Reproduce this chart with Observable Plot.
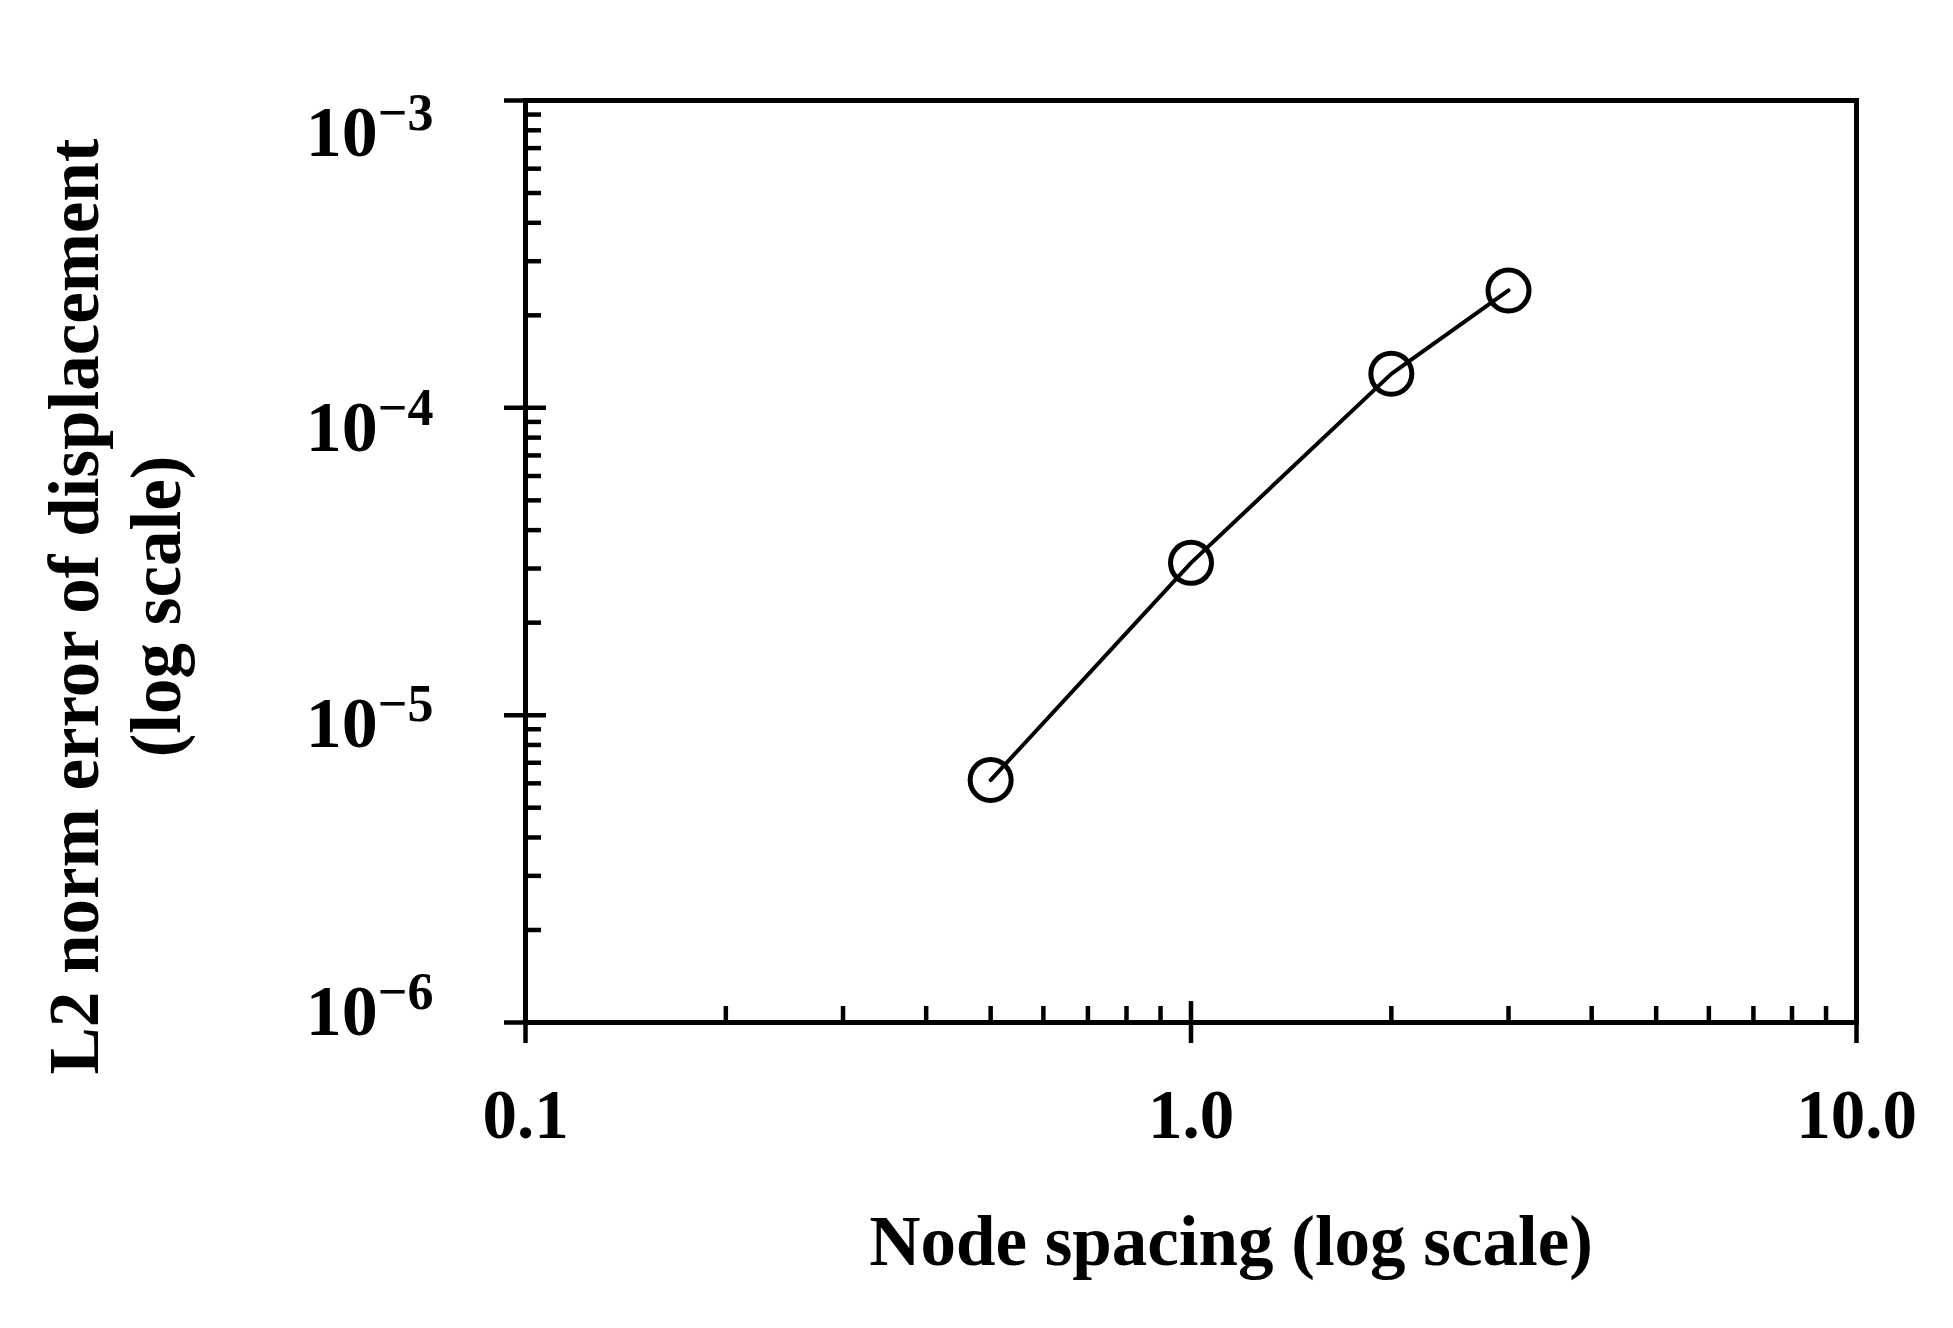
<!DOCTYPE html>
<html><head><meta charset="utf-8">
<script src="https://cdn.jsdelivr.net/npm/d3@7"></script>
<script src="https://cdn.jsdelivr.net/npm/@observablehq/plot@0.6"></script>
<style>
html,body{margin:0;padding:0;background:#fff;}
</style>
</head><body><div id="chart"></div>
<script>
// ---- data ----
const nodeSpacing = [0.5, 1.0, 2.0, 3.0];
const l2Error = [6.15e-6, 3.13e-5, 1.29e-4, 2.41e-4];

// ---- ticks ----
const xMajorTicks = [0.1, 1, 10];
const xTickLabels = ["0.1", "1.0", "10.0"];
const xMinorTicks = [0.2, 0.3, 0.4, 0.5, 0.6, 0.7, 0.8, 0.9, 2, 3, 4, 5, 6, 7, 8, 9];
const yMajorTicks = [1e-6, 1e-5, 1e-4, 1e-3];
const yTickExponents = ["−6", "−5", "−4", "−3"];
const yMinorTicks = [2e-6, 3e-6, 4e-6, 5e-6, 6e-6, 7e-6, 8e-6, 9e-6,
                     2e-5, 3e-5, 4e-5, 5e-5, 6e-5, 7e-5, 8e-5, 9e-5,
                     2e-4, 3e-4, 4e-4, 5e-4, 6e-4, 7e-4, 8e-4, 9e-4];

// ---- titles ----
const xTitle = "Node spacing (log scale)";
const yTitle = "L2 norm error of displacement\n(log scale)";

const data = nodeSpacing.map((x, i) => ({x, y: l2Error[i]}));

// vertical nudges of the y tick labels (as in the original figure), one per major tick
const yLabelNudge = [-11, 9, 20, 32];

const yLabelAxes = yMajorTicks.map((t, i) =>
  Plot.axisY([t], {tickSize: 0, tickPadding: 92, dy: yLabelNudge[i], stroke: "none",
    fontSize: 72, label: null,
    tickFormat: d => "10^" + yTickExponents[yMajorTicks.indexOf(d)]})
);

const chart = Plot.plot({
  width: 1953,
  height: 1328,
  marginLeft: 525,
  marginRight: 97,
  marginTop: 100,
  marginBottom: 306,
  style: {fontFamily: "'Liberation Serif', 'Times New Roman', serif", fontWeight: "bold", background: "white", color: "black"},
  x: {type: "log", domain: [0.1, 10]},
  y: {type: "log", domain: [1e-6, 1e-3]},
  marks: [
    Plot.axisX(xMinorTicks, {tickSize: 16, dy: -16, fill: "none", strokeWidth: 4.5, label: null}),
    Plot.axisX(xMajorTicks, {tickSize: 42, dy: -21, fill: "none", strokeWidth: 4.5, label: null}),
    Plot.axisX(xMajorTicks, {tickSize: 0, tickPadding: 66, stroke: "none", fontSize: 69, label: null,
      tickFormat: d => xTickLabels[xMajorTicks.indexOf(d)]}),
    Plot.axisY(yMinorTicks, {tickSize: 16, dx: 16, fill: "none", strokeWidth: 4.5, label: null}),
    Plot.axisY(yMajorTicks, {tickSize: 42, dx: 21, fill: "none", strokeWidth: 4.5, label: null}),
    ...yLabelAxes,
    Plot.frame({stroke: "black", strokeWidth: 5}),
    Plot.line(data, {x: "x", y: "y", stroke: "black", strokeWidth: 4}),
    Plot.dot(data, {x: "x", y: "y", r: 20.5, stroke: "black", strokeWidth: 5, fill: "none"}),
    Plot.text([xTitle], {frameAnchor: "bottom", dx: 40, dy: 242, lineAnchor: "bottom", textAnchor: "middle",
      fontSize: 71, fontWeight: "bold"}),
    Plot.text([yTitle], {frameAnchor: "left", rotate: -90, dx: -485, dy: 45, lineAnchor: "top", textAnchor: "middle",
      lineHeight: 1.15, fontSize: 71, fontWeight: "bold"})
  ]
});

// render superscript exponents on y tick labels
d3.select(chart).selectAll("text").each(function() {
  const t = d3.select(this);
  const s = this.textContent;
  if (/^10\^/.test(s)) {
    const exp = s.slice(3);
    t.text(null);
    t.append("tspan").text("10");
    t.append("tspan").attr("dy", "-0.5em").attr("font-size", "52px").text(exp);
  }
});

document.getElementById("chart").appendChild(chart);
</script>
</body></html>
